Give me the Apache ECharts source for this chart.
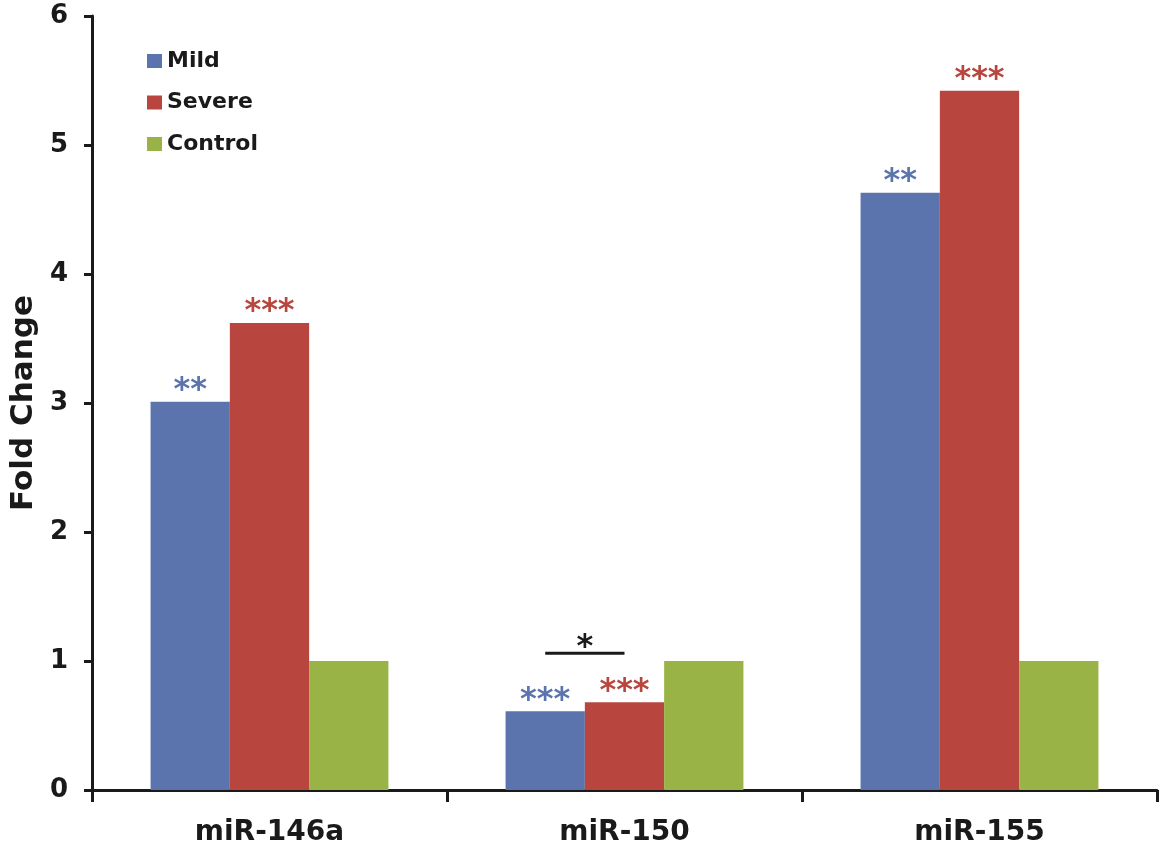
<!DOCTYPE html>
<html>
<head>
<meta charset="utf-8">
<script src="https://cdn.jsdelivr.net/npm/echarts@6/dist/echarts.min.js"></script>
<style>
  html, body { margin: 0; padding: 0; background: #fff; }
  #chart { width: 1160px; height: 847px; }
</style>
</head>
<body>
<div id="chart"></div>
<script>
// ---- Data ----
var categories = ['miR-146a', 'miR-150', 'miR-155'];
var mild = [3.01, 0.61, 4.63];
var severe = [3.62, 0.68, 5.42];
var control = [1.00, 1.00, 1.00];
var mildSig = ['**', '***', '**'];
var severeSig = ['***', '***', '***'];
var yTicks = [0, 1, 2, 3, 4, 5, 6];
// Mild vs Severe comparison bracket: [category index, height, label]
var bracket = [[1, 1.06, '*']];

var FONT = 'DejaVu Sans';
var TXT = '#1a1a1a';
var COLORS = { Mild: '#5b74ad', Severe: '#b8463f', Control: '#99b347' };
var CAT_GAP = 0.33;

var chart = echarts.init(document.getElementById('chart'), null, { renderer: 'canvas' });

function barSeries(name, data, sig) {
  return {
    name: name,
    type: 'bar',
    data: data,
    barGap: '0%',
    barCategoryGap: (CAT_GAP * 100) + '%',
    itemStyle: { color: COLORS[name] },
    label: sig ? {
      show: true,
      position: 'top',
      distance: -5,
      formatter: function (p) { return sig[p.dataIndex]; },
      color: COLORS[name],
      fontFamily: FONT,
      fontWeight: 'bold',
      fontSize: 32
    } : { show: false },
    emphasis: { disabled: true },
    animation: false
  };
}

var option = {
  backgroundColor: '#ffffff',
  animation: false,
  grid: { left: 89, right: 3, top: 16, bottom: 57, containLabel: false },
  legend: {
    data: ['Mild', 'Severe', 'Control'],
    orient: 'vertical',
    left: 147,
    top: 50,
    padding: 0,
    itemWidth: 15,
    itemHeight: 14,
    itemGap: 19.5,
    icon: 'rect',
    textStyle: { fontFamily: FONT, fontWeight: 'bold', fontSize: 22, color: TXT }
  },
  xAxis: {
    type: 'category',
    data: categories,
    axisLine: { show: true, lineStyle: { color: TXT, width: 3 } },
    axisTick: { show: true, length: 12, lineStyle: { color: TXT, width: 3 } },
    axisLabel: { fontFamily: FONT, fontWeight: 'bold', fontSize: 28, color: TXT, margin: 29 },
    splitLine: { show: false }
  },
  yAxis: {
    type: 'value',
    min: yTicks[0],
    max: yTicks[yTicks.length - 1],
    interval: 1,
    name: 'Fold Change',
    nameLocation: 'middle',
    nameGap: 47,
    nameTextStyle: { fontFamily: FONT, fontWeight: 'bold', fontSize: 31, color: TXT },
    axisLine: { show: true, lineStyle: { color: TXT, width: 3 } },
    axisTick: { show: true, length: 8, lineStyle: { color: TXT, width: 3 } },
    axisLabel: { fontFamily: FONT, fontWeight: 'bold', fontSize: 26, color: TXT, margin: 24 },
    splitLine: { show: false }
  },
  series: [
    barSeries('Mild', mild, mildSig),
    barSeries('Severe', severe, severeSig),
    barSeries('Control', control, null),
    {
      type: 'custom',
      name: 'bracket',
      coordinateSystem: 'cartesian2d',
      data: bracket,
      silent: true,
      z: 5,
      renderItem: function (params, api) {
        var c = api.coord([api.value(0), api.value(1)]);
        var band = api.size([1, 0])[0];
        var bw = band * (1 - CAT_GAP) / 3;
        var x1 = c[0] - bw, x2 = c[0];
        return {
          type: 'group',
          children: [
            { type: 'line', shape: { x1: x1, y1: c[1], x2: x2, y2: c[1] },
              style: { stroke: TXT, lineWidth: 3 } },
            { type: 'text', x: (x1 + x2) / 2, y: c[1] - 6,
              style: { text: bracket[params.dataIndex][2], fill: TXT, font: 'bold 32px "DejaVu Sans"',
                       textAlign: 'center', textVerticalAlign: 'middle' } }
          ]
        };
      }
    }
  ]
};
chart.setOption(option);
</script>
</body>
</html>
